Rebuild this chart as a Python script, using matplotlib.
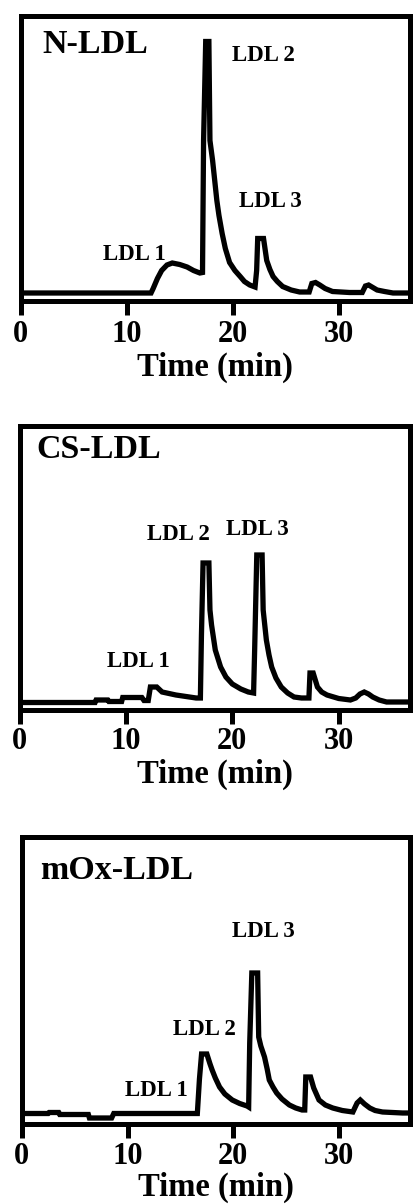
import matplotlib
matplotlib.use("Agg")
import matplotlib.pyplot as plt

plt.rcParams['font.family'] = ['Liberation Serif', 'DejaVu Serif']
plt.rcParams['font.weight'] = 'bold'

# ---------------- data (time in min, detector signal in arbitrary units) -------------
n_time = [0, 12.3, 12.5, 12.9, 13.3, 13.8, 14.3, 15.0, 15.7, 16.3, 16.9, 17.15,
          17.25, 17.45, 17.75, 17.85, 18.1, 18.3, 18.5, 18.7, 19.0, 19.3, 19.7, 20.2,
          20.7, 21.1, 21.6, 22.1, 22.25, 22.35, 22.9, 23.2, 23.5, 23.8, 24.2, 24.7,
          25.5, 26.3, 27.2, 27.45, 27.8, 28.2, 28.7, 29.4, 31.0, 32.2, 32.5, 32.8,
          33.2, 33.6, 34.3, 35.1, 36.8]
n_signal = [7.5, 7.5, 12, 22, 30, 35.5, 37.5, 36, 33.5, 30, 27.5, 28,
            160, 259, 259, 160, 140, 120, 100, 85, 67, 52, 38, 30,
            24, 19, 15.5, 13.5, 30, 62, 62, 40, 31, 24, 19, 14,
            10.5, 8.5, 8.5, 17, 18, 15.5, 12, 9, 8, 8, 14.5, 15.5,
            13, 10.5, 9, 7.5, 7.5]

cs_time = [0, 7.1, 7.2, 8.3, 8.4, 9.6, 9.7, 11.5, 11.7, 12.1, 12.3, 12.9, 13.4, 14.7,
           16.6, 17.0, 17.1, 17.25, 17.8, 17.9, 18.05, 18.4, 18.9, 19.4, 20.0, 20.8,
           21.5, 22.0, 22.1, 22.3, 22.8, 22.9, 23.0, 23.2, 23.45, 23.7, 24.1, 24.6,
           25.2, 25.8, 26.5, 27.2, 27.3, 27.6, 27.8, 28.0, 28.4, 28.9, 30.0, 31.1,
           31.6, 32.0, 32.4, 32.8, 33.2, 33.8, 34.5, 36.8]
cs_signal = [7.5, 7.5, 10, 10, 8.5, 8.5, 12.5, 12.5, 9.5, 9.5, 23, 23, 18, 15,
             12, 12, 75, 147, 147, 100, 85, 60, 43, 33, 26, 21,
             18, 17, 60, 155, 155, 100, 90, 70, 55, 43, 32, 23,
             17, 13, 12, 12, 37, 37, 30, 23, 18, 15, 11.5, 10,
             12, 16, 18, 16, 13, 10, 8, 8]

mox_time = [0, 2.5, 2.6, 3.5, 3.6, 6.3, 6.4, 8.5, 8.7, 16.6, 16.8, 17.0, 17.5, 17.8,
            18.0, 18.3, 18.7, 19.2, 19.9, 20.6, 21.3, 21.45, 21.55, 21.75, 22.3, 22.4,
            22.6, 22.95, 23.2, 23.4, 23.75, 24.1, 24.6, 25.3, 25.9, 26.5, 26.75, 26.85,
            27.3, 27.6, 28.1, 28.7, 29.4, 30.3, 31.3, 31.7, 32.0, 32.4, 32.9, 33.4,
            34.1, 36.0, 36.8]
mox_signal = [10.5, 10.5, 11.5, 11.5, 9.5, 9.5, 6, 6, 10.5, 10.5, 45, 70, 70, 60,
              54, 46, 37, 30, 24, 20.5, 18, 17, 81, 151, 151, 87,
              78, 67, 55, 44, 37, 31, 25, 19, 16, 14, 14, 47,
              47, 36, 24, 19, 16, 13.5, 12, 21, 24, 20, 16, 13.5,
              12, 11, 11]

panel_titles = ["N-LDL", "CS-LDL", "mOx-LDL"]
peak_labels = ["LDL 1", "LDL 2", "LDL 3"]
x_ticks = [0, 10, 20, 30]
x_label = "Time (min)"

# ---------------- layout ----------------
W, H = 413, 1204
fig = plt.figure(figsize=(W / 100, H / 100), dpi=100)

def frac(left, right, top, bottom):
    return [left / W, 1 - bottom / H, (right - left) / W, (bottom - top) / H]

panels = [
    dict(rect=frac(20.5, 410, 15.5, 300.5), t=n_time, s=n_signal, ymax=285,
         title_pos=(2.1, 247.5), pad=4, labelpad=2,
         lab_pos=[(7.8, 40.5), (19.9, 239.5), (20.6, 93.5)]),
    dict(rect=frac(19.5, 410, 426, 710), t=cs_time, s=cs_signal, ymax=284,
         title_pos=(1.55, 252), pad=2, labelpad=2,
         lab_pos=[(8.2, 43), (12.0, 170), (19.4, 175)]),
    dict(rect=frac(21.7, 410, 837, 1124), t=mox_time, s=mox_signal, ymax=287,
         title_pos=(1.7, 245), pad=3, labelpad=0.5,
         lab_pos=[(9.75, 28), (14.3, 89), (19.9, 187)]),
]

for p, title in zip(panels, panel_titles):
    ax = fig.add_axes(p['rect'])
    ax.plot(p['t'], p['s'], color='black', lw=3.8, solid_joinstyle='miter',
            solid_capstyle='butt', clip_on=False)
    ax.set_xlim(0, 36.7)
    ax.set_ylim(0, p['ymax'])
    for sp in ax.spines.values():
        sp.set_linewidth(3.6)
        sp.set_color('black')
    ax.set_yticks([])
    ax.set_xticks(x_ticks)
    ax.tick_params(axis='x', direction='out', length=10, width=3.6, pad=p['pad'],
                   labelsize=22, top=False)
    for lbl in ax.get_xticklabels():
        lbl.set_fontweight('bold')
    ax.set_xlabel(x_label, fontsize=23.5, fontweight='bold', labelpad=p['labelpad'])
    ax.text(p['title_pos'][0], p['title_pos'][1], title, fontsize=24.5,
            fontweight='bold', ha='left', va='baseline')
    for (lx, ly), lab in zip(p['lab_pos'], peak_labels):
        ax.text(lx, ly, lab, fontsize=16.5, fontweight='bold',
                ha='left', va='baseline')

fig.savefig("out.png", dpi=100)
